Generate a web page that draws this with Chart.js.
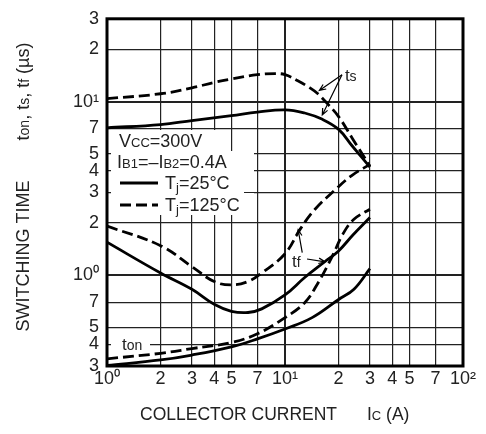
<!DOCTYPE html>
<html>
<head>
<meta charset="utf-8">
<script src="https://cdn.jsdelivr.net/npm/chart.js@4"></script>
<style>
  html, body { margin: 0; padding: 0; background: #fff; }
</style>
</head>
<body>
<canvas id="switchingChart" width="486" height="434"></canvas>
<script>
// --- Data: Ic (A) vs switching time (µs) ---
// ts, Tj=25°C (solid) and Tj=125°C (dashed)
const tsCur25 = [1, 2, 3, 5, 7, 10, 12.9, 16.1, 20, 23.8, 30];
const ts25 = [7.06, 7.38, 7.78, 8.3, 8.7, 8.97, 8.6, 7.93, 6.92, 5.57, 4.2];
const tsCur125 = [1, 2, 3, 4, 5, 7, 8.8, 10, 11.8, 13.8, 15.3, 17.2, 20, 24, 30];
const ts125 = [10.4, 11.1, 12.0, 12.9, 13.5, 14.3, 14.5, 14.3, 13.2, 12.0, 11.1, 9.8, 8.2, 6.1, 4.25];

// tf
const tfCur25 = [1, 2, 3, 4, 5, 6.2, 7.4, 10, 12.9, 16.8, 20, 24, 30];
const tf25 = [1.55, 1.03, 0.83, 0.68, 0.62, 0.61, 0.64, 0.77, 0.97, 1.2, 1.38, 1.7, 2.15];
const tfCur125 = [1, 2, 3, 4, 5, 6.2, 7.4, 10, 12.2, 14.7, 19.1, 23.7, 30];
const tf125 = [1.92, 1.48, 1.12, 0.92, 0.88, 0.92, 1.03, 1.33, 1.85, 2.39, 3.1, 3.75, 4.35];

// ton
const tonCur25 = [1, 2, 3, 5, 7, 10, 14.2, 20, 24.4, 30];
const ton25 = [0.302, 0.325, 0.347, 0.387, 0.43, 0.49, 0.57, 0.725, 0.83, 1.09];
const tonCur125 = [1, 2, 3, 5, 7, 10, 12.9, 15.3, 18.4, 21.1, 24.4, 30];
const ton125 = [0.33, 0.355, 0.378, 0.41, 0.46, 0.57, 0.695, 0.9, 1.28, 1.72, 2.1, 2.4];

// --- Axis ticks ---
const xTicks = [1, 2, 3, 4, 5, 7, 10, 20, 30, 40, 50, 70, 100];
const yTicks = [0.3, 0.4, 0.5, 0.7, 1, 2, 3, 4, 5, 7, 10, 20, 30];
const powerLabels = { 1: '10⁰', 10: '10¹', 100: '10²' };

const FONT = "'Liberation Sans', Arial, sans-serif";
const INK = '#222';

const toPoints = (xs, ys) => xs.map((x, i) => ({ x: x, y: ys[i] }));

const tickLabel = v => {
    if (powerLabels[v]) return powerLabels[v];
    const decade = Math.pow(10, Math.floor(Math.log10(v) + 1e-9));
    return String(Math.round(v / decade));
};
const isDecade = v => Math.abs(Math.log10(v) - Math.round(Math.log10(v))) < 1e-6;

// draws text made of [text, size, dy] parts, left aligned, returns end x
const drawParts = (ctx, parts, x, y) => {
    let cx = x;
    parts.forEach(([t, size, dy]) => {
        ctx.font = `${size}px ${FONT}`;
        ctx.fillText(t, cx, y + (dy || 0));
        cx += ctx.measureText(t).width;
    });
    return cx;
};
const partsWidth = (ctx, parts) => {
    let w = 0;
    parts.forEach(([t, size]) => {
        ctx.font = `${size}px ${FONT}`;
        w += ctx.measureText(t).width;
    });
    return w;
};

const arrow = (ctx, x0, y0, x1, y1) => {
    const a = Math.atan2(y1 - y0, x1 - x0);
    const h = 7;
    ctx.beginPath();
    ctx.moveTo(x0, y0);
    ctx.lineTo(x1, y1);
    ctx.moveTo(x1 - h * Math.cos(a - 0.4), y1 - h * Math.sin(a - 0.4));
    ctx.lineTo(x1, y1);
    ctx.lineTo(x1 - h * Math.cos(a + 0.4), y1 - h * Math.sin(a + 0.4));
    ctx.stroke();
};

// white boxes under legend and ton label, then frame and all the text
const decorPlugin = {
    id: 'decor',
    beforeDatasetsDraw(chart) {
        const ctx = chart.ctx;
        const { left } = chart.chartArea;
        const sy = chart.scales.y;
        ctx.save();
        ctx.fillStyle = '#fff';
        // legend rows
        ctx.fillRect(left + 4, 130, 108, 22);
        ctx.fillRect(left + 4, 151, 143, 22);
        ctx.fillRect(left + 4, 172, 133, 22);
        ctx.fillRect(left + 4, 193, 143, 22);
        // ton label
        const ty = sy.getPixelForValue(0.4);
        ctx.fillRect(left + 4, ty - 8, 39, 16);
        ctx.restore();
    },
    afterDatasetsDraw(chart) {
        const ctx = chart.ctx;
        const { left, right, top, bottom } = chart.chartArea;
        const sx = chart.scales.x, sy = chart.scales.y;
        const px = v => sx.getPixelForValue(v);
        const py = v => sy.getPixelForValue(v);
        ctx.save();

        // frame
        ctx.strokeStyle = '#000';
        ctx.lineWidth = 3;
        ctx.strokeRect(left, top, right - left, bottom - top);

        ctx.fillStyle = INK;
        ctx.textBaseline = 'alphabetic';

        // legend
        const lx = left + 10;
        drawParts(ctx, [['V', 18], ['CC', 13], ['=300V', 18]], lx + 2, 147);
        drawParts(ctx, [['I', 18], ['B1', 13], ['=–I', 18], ['B2', 13], ['=0.4A', 18]], lx, 168);
        ctx.strokeStyle = '#000';
        ctx.lineWidth = 2.8;
        ctx.beginPath();
        ctx.moveTo(lx + 3, 183);
        ctx.lineTo(lx + 41, 183);
        ctx.stroke();
        ctx.setLineDash([11, 5]);
        ctx.beginPath();
        ctx.moveTo(lx + 3, 205);
        ctx.lineTo(lx + 41, 205);
        ctx.stroke();
        ctx.setLineDash([]);
        drawParts(ctx, [['T', 18], ['j', 13, 3], ['=25°C', 18]], lx + 48, 189);
        drawParts(ctx, [['T', 18], ['j', 13, 3], ['=125°C', 18]], lx + 48, 211);

        // ton label
        drawParts(ctx, [['t', 17], ['on', 14]], px(1.214), py(0.4) + 6);

        // ts label and arrows
        drawParts(ctx, [['t', 17], ['s', 14]], px(21.7), py(13.2));
        ctx.lineWidth = 1.2;
        arrow(ctx, px(20.9), py(14.3), px(15.6), py(11.6));
        arrow(ctx, px(20.9), py(14.3), px(16.2), py(8.38));

        // tf label and arrows
        drawParts(ctx, [['t', 17], ['f', 14]], px(10.96), py(1.115));
        arrow(ctx, px(12.5), py(1.35), px(11.85), py(1.83));
        arrow(ctx, px(13.3), py(1.24), px(16.8), py(1.195));

        // x axis title
        drawParts(ctx, [['COLLECTOR CURRENT', 17.5]], 140, 420);
        drawParts(ctx, [['I', 17.5], ['C', 13], [' (A)', 17.5]], 367, 420);

        // y axis title, rotated
        const yParts = [['SWITCHING TIME', 18], ['        t', 18], ['on', 14], [', t', 18], ['s', 14], [', t', 18], ['f', 14], [' (µs)', 18]];
        const w = partsWidth(ctx, yParts);
        ctx.translate(29, 187);
        ctx.rotate(-Math.PI / 2);
        drawParts(ctx, yParts, -w / 2, 0);

        ctx.restore();
    }
};

const line = (pts, dashed) => ({
    data: pts,
    borderColor: '#000',
    borderWidth: 2.8,
    borderDash: dashed ? [11, 5] : [],
    pointRadius: 0,
    fill: false,
    tension: 0.4
});

const createSwitchingChart = () => {
    const ctx = document.querySelector('#switchingChart').getContext('2d');
    new Chart(ctx, {
        type: 'line',
        data: {
            datasets: [
                line(toPoints(tsCur25, ts25), false),
                line(toPoints(tsCur125, ts125), true),
                line(toPoints(tfCur25, tf25), false),
                line(toPoints(tfCur125, tf125), true),
                line(toPoints(tonCur25, ton25), false),
                line(toPoints(tonCur125, ton125), true)
            ]
        },
        options: {
            responsive: false,
            animation: false,
            layout: { padding: { left: 0, right: 23, top: 12, bottom: 0 } },
            plugins: { legend: { display: false }, tooltip: { enabled: false } },
            scales: {
                x: {
                    type: 'logarithmic',
                    min: 1,
                    max: 100,
                    afterBuildTicks: s => { s.ticks = xTicks.map(v => ({ value: v })); },
                    afterFit: s => { s.height = 68; },
                    border: { display: false },
                    grid: {
                        color: '#222',
                        lineWidth: c => (c.tick && isDecade(c.tick.value) ? 2 : 1.2),
                        drawTicks: false
                    },
                    ticks: {
                        autoSkip: false,
                        maxRotation: 0,
                        minRotation: 0,
                        padding: 2,
                        color: INK,
                        font: { family: FONT, size: 18 },
                        callback: v => tickLabel(v)
                    }
                },
                y: {
                    type: 'logarithmic',
                    min: 0.3,
                    max: 30,
                    afterBuildTicks: s => { s.ticks = yTicks.map(v => ({ value: v })); },
                    afterFit: s => { s.width = 107; },
                    border: { display: false },
                    grid: {
                        color: '#222',
                        lineWidth: c => (c.tick && isDecade(c.tick.value) ? 2 : 1.2),
                        drawTicks: false
                    },
                    ticks: {
                        autoSkip: false,
                        padding: 8,
                        color: INK,
                        font: { family: FONT, size: 18 },
                        callback: v => tickLabel(v)
                    }
                }
            }
        },
        plugins: [decorPlugin]
    });
};

createSwitchingChart();
</script>
</body>
</html>
